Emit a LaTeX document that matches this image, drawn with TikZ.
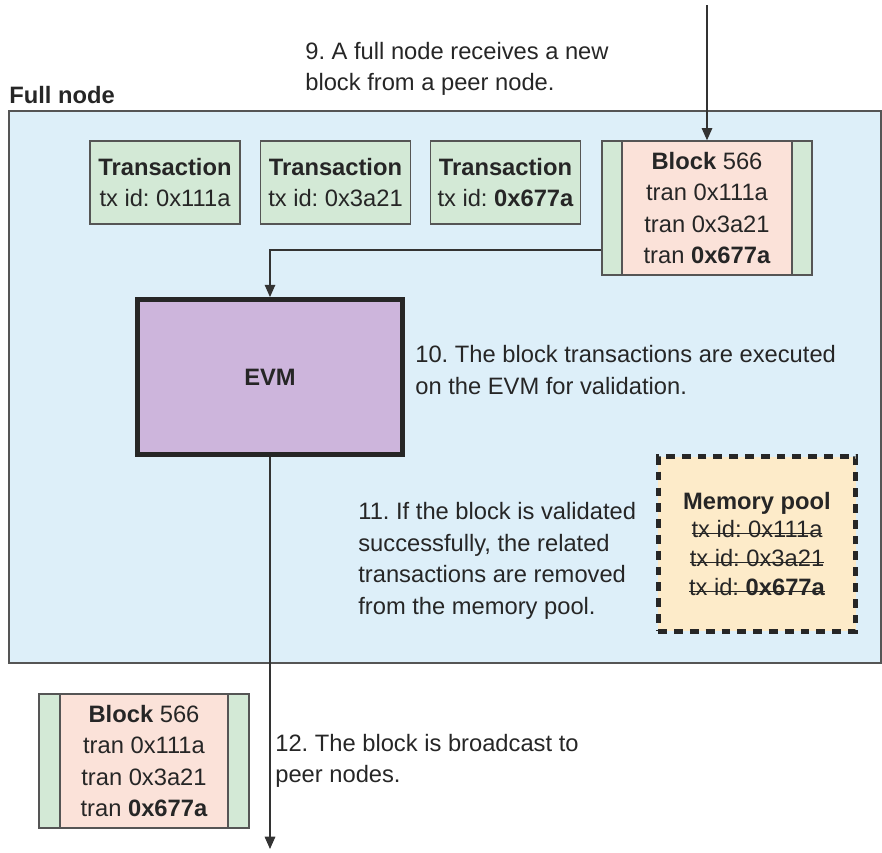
\documentclass[tikz,border=0pt]{standalone}
\usepackage{xcolor}
\usepackage{tikz}
\usepackage{fontspec}
\setmainfont{Liberation Sans}
\usetikzlibrary{arrows.meta, positioning}

\definecolor{nodeblue}{HTML}{DDEFF9}
\definecolor{txgreen}{HTML}{D3E9D6}
\definecolor{blkpink}{HTML}{FBE2D9}
\definecolor{evmpurple}{HTML}{CDB5DC}
\definecolor{poolorange}{HTML}{FDEBC9}
\definecolor{edgegray}{HTML}{555555}

\newsavebox{\strkbox}
\newcommand{\strk}[1]{\sbox{\strkbox}{#1}\rlap{\raisebox{0.3ex}{\rule{\wd\strkbox}{0.9pt}}}\usebox{\strkbox}}

\tikzset{
  txt/.style={font=\fontsize{13.5}{18}\selectfont, text=black!85, inner sep=0pt},
  txbox/.style={txt, draw=edgegray, thick, fill=txgreen, minimum width=3cm, minimum height=1.66cm, align=center},
  blkouter/.style={draw=edgegray, thick, fill=txgreen, minimum width=4.2cm, minimum height=2.68cm},
  blkinner/.style={txt, draw=edgegray, thick, fill=blkpink, minimum width=3.4cm, minimum height=2.68cm, align=center},
  arr/.style={draw=black!80, thick, -{Triangle[length=7pt,width=6pt]}}
}

\begin{document}
\frenchspacing
\begin{tikzpicture}[x=0.02cm, y=-0.02cm]
        \useasboundingbox (0,0) rectangle (882,852);
        % full node area
        \node[draw=edgegray, thick, fill=nodeblue, minimum width=17.44cm, minimum height=11.04cm] (fn) at (445,387) {};
        \node[txt, font=\fontsize{13.5}{18}\selectfont\bfseries, anchor=west] (fnlabel) at (9,95) {Full node};
        \begin{scope}[every node/.style={txbox}]
          \node (tx1) at (165,182.5) {\textbf{Transaction}\\tx id: 0x111a};
          \node (tx2) at (335.5,182.5) {\textbf{Transaction}\\tx id: 0x3a21};
          \node (tx3) at (505.5,182.5) {\textbf{Transaction}\\tx id: \textbf{0x677a}};
        \end{scope}
        % received block
        \node[blkouter] (blk) at (707,208) {};
        \node[blkinner] (blkin) at (blk.center) {\textbf{Block} 566\\tran 0x111a\\tran 0x3a21\\tran \textbf{0x677a}};
        % EVM
        \node[txt, font=\fontsize{13.5}{18}\selectfont\bfseries, draw=black!85, line width=2.8pt, fill=evmpurple, minimum width=5.3cm, minimum height=3.1cm] (evm) at (270,377) {EVM};
        % memory pool
        \node[txt, draw=black!85, line width=2.6pt, dash pattern=on 5pt off 4pt, fill=poolorange, minimum width=3.95cm, minimum height=3.5cm, align=center] (pool) at (757,544)
          {\textbf{Memory pool}\\[-1.5pt]\strk{tx id: 0x111a}\\[-1.5pt]\strk{tx id: 0x3a21}\\[-1.5pt]\strk{tx id: \textbf{0x677a}}};
        % broadcast block
        \node[blkouter] (blk2) at (144,761) {};
        \node[blkinner, minimum width=3.36cm] (blk2in) at (blk2.center) {\textbf{Block} 566\\tran 0x111a\\tran 0x3a21\\tran \textbf{0x677a}};
        % step labels
        \begin{scope}[every node/.style={txt, anchor=west, align=left}]
          \node (s9) at (305,69) {9. A full node receives a new\\block from a peer node.};
          \node (s10) at (415,370) {10. The block transactions are executed\\on the EVM for validation.};
          \node (s11) at (358,561) {11. If the block is validated\\successfully, the related\\transactions are removed\\from the memory pool.};
          \node (s12) at (275,761) {12. The block is broadcast to\\peer nodes.};
        \end{scope}
        % connectors
        \coordinate (peerin) at (707,5);
        \coordinate (peerout) at (270,849);
        \draw[arr] (peerin) -- (blk.north);
        \draw[arr] ([yshift=-0.84cm]blk.west) -| (evm.north);
        \draw[arr] (evm.south) -- (peerout);
      \end{tikzpicture}
\end{document}
